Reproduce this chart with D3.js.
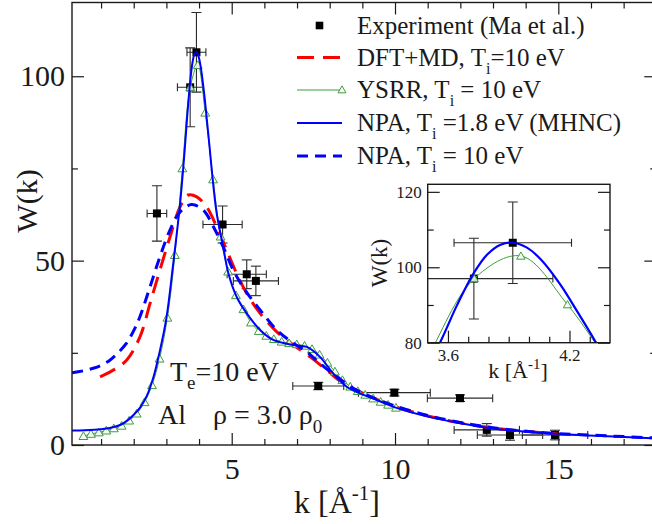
<!DOCTYPE html>
<html>
<head>
<meta charset="utf-8">
<script src="https://cdn.jsdelivr.net/npm/d3@7"></script>
<style>
  body { margin: 0; background: #fff; }
  svg { display: block; }
  text { font-family: "Liberation Serif", "Times New Roman", serif; fill: #1a1a1a; }
</style>
</head>
<body>
<svg id="chart" width="652" height="524"></svg>
<script>
// ---- Experiment (Ma et al.): k, W(k) and error bars ----
const expK  = [2.71, 3.728, 3.92, 4.72, 5.46, 5.74, 7.65, 9.98, 11.99, 12.81, 13.52, 14.9];
const expW  = [62.8, 97.0, 106.5, 59.8, 46.3, 44.5, 16.0, 14.2, 12.7, 4.1, 2.7, 2.7];
const expDK = [0.30, 0.39, 0.29, 0.60, 0.60, 0.69, 0.78, 1.10, 1.00, 1.00, 1.00, 1.00];
const expDW = [7.5, 10.7, 10.8, 5.0, 3.9, 4.0, 1.0, 0.9, 0.9, 1.7, 1.4, 1.3];

// ---- DFT+MD, Ti = 10 eV ----
const dftK = [0.97, 1.37, 1.78, 2.19, 2.50, 2.80, 3.11, 3.42, 3.67, 3.93, 4.23, 4.54, 4.85, 5.15, 5.46, 5.87, 6.38, 6.89, 7.40, 7.91, 8.42, 8.93, 10.0, 11.0, 12.0, 13.0, 14.0, 15.0];
const dftW = [18.5, 20.3, 23.0, 29.3, 38.4, 47.4, 56.4, 64.6, 67.8, 67.3, 64.6, 59.2, 52.8, 46.5, 41.1, 35.7, 30.7, 27.1, 23.9, 20.3, 16.7, 14.4, 10.4, 7.9, 6.0, 4.6, 3.7, 3.0];

// ---- YSRR, Ti = 10 eV ----
const ysrrK = [0.46, 0.69, 0.93, 1.16, 1.39, 1.63, 1.86, 2.09, 2.33, 2.56, 2.79, 3.03, 3.26, 3.49, 3.73, 3.96, 4.19, 4.43, 4.66, 4.89, 5.13, 5.36, 5.59, 5.83, 6.06, 6.29, 6.53, 6.76, 6.99, 7.23, 7.46, 7.69, 7.93, 8.16, 8.39, 8.63, 8.86, 9.09, 9.33, 9.56, 9.79, 10.03];
const ysrrW = [2.4, 3.0, 3.4, 3.9, 4.5, 5.2, 6.6, 8.5, 11.6, 16.2, 23.4, 34.5, 51.5, 75.0, 97.0, 103.0, 90.1, 72.0, 56.5, 47.0, 40.6, 36.8, 33.2, 30.9, 29.6, 28.7, 28.0, 27.6, 27.3, 26.9, 26.0, 24.5, 22.3, 19.9, 17.6, 15.8, 14.6, 13.6, 12.6, 11.7, 10.9, 10.1];

// ---- NPA, Ti = 1.8 eV (MHNC) ----
const npa18K = [0.11, 0.5, 1.0, 1.3, 1.6, 1.8, 2.0, 2.2, 2.4, 2.6, 2.8, 3.0, 3.2, 3.42, 3.564, 3.646, 3.728, 3.794, 3.86, 3.92, 3.99, 4.06, 4.155, 4.238, 4.327, 4.39, 4.54, 4.74, 4.90, 5.15, 5.46, 5.87, 6.27, 6.89, 7.30, 7.70, 8.11, 8.52, 8.93, 9.5, 10.0, 11.0, 12.0, 13.0, 14.0, 15.0, 16.7, 18.0];
const npa18W = [3.9, 4.0, 4.3, 4.7, 5.5, 6.6, 8.2, 10.2, 13.3, 18.3, 25.5, 34.4, 48.5, 65.5, 80.4, 90.1, 98.5, 103.4, 106.0, 106.5, 105.2, 102.0, 95.4, 88.3, 80.4, 74.5, 62.8, 53.7, 46.5, 40.2, 35.7, 31.2, 28.5, 27.1, 26.6, 23.9, 19.4, 15.8, 14.0, 12.0, 10.2, 7.7, 5.9, 4.5, 3.6, 3.0, 2.3, 1.8];

// ---- NPA, Ti = 10 eV ----
const npa10K = [0.11, 0.5, 0.76, 1.0, 1.27, 1.5, 1.78, 2.0, 2.19, 2.5, 2.8, 3.11, 3.42, 3.77, 4.13, 4.44, 4.74, 5.05, 5.41, 5.87, 6.38, 6.89, 7.30, 7.70, 8.22, 8.72, 9.2, 10.0, 11.0, 12.0, 13.0, 14.0, 15.0, 16.7, 18.0];
const npa10W = [19.6, 20.2, 20.8, 21.6, 23.0, 24.8, 27.6, 31.0, 34.8, 42.9, 51.0, 58.3, 63.2, 65.2, 63.7, 59.2, 53.7, 47.4, 42.0, 36.6, 31.2, 27.6, 25.3, 22.1, 18.5, 15.4, 13.3, 10.6, 8.0, 6.1, 4.7, 3.7, 3.1, 2.4, 1.9];

// ---- Axis ticks ----
const xMajor = [5, 10, 15];
const xMinor = [1, 2, 3, 4, 6, 7, 8, 9, 11, 12, 13, 14, 16, 17, 18];
const yMajor = [0, 50, 100];
const yMinor = [25, 75];
const inXMajor = [3.6, 4.2];
const inXMinor = [3.7, 3.8, 3.9, 4.0, 4.1, 4.3];
const inYMajor = [80, 100, 120];
const inYMinor = [90, 110];

const legendItems = [
  { key: "exp",   pre: "Experiment (Ma et al.)", sub: null, post: "" },
  { key: "dft",   pre: "DFT+MD, T", sub: "i", post: "=10 eV" },
  { key: "ysrr",  pre: "YSRR, T", sub: "i", post: " = 10 eV" },
  { key: "npa18", pre: "NPA, T", sub: "i", post: " =1.8 eV (MHNC)" },
  { key: "npa10", pre: "NPA, T", sub: "i", post: " = 10 eV" }
];

const RED = "#ff0000", BLUE = "#0000ff", GREEN = "#3a9f3a", INK = "#1a1a1a";
const zip = (a, b) => a.map((v, i) => [v, b[i]]);

const svg = d3.select("#chart");

function drawPanel(g, x, y, opts) {
  const [x0, x1] = x.range();
  const [yb, yt] = y.range();
  const clipId = opts.id + "-clip";
  g.append("defs").append("clipPath").attr("id", clipId)
    .append("rect").attr("x", x0).attr("y", yt).attr("width", x1 - x0).attr("height", yb - yt);

  if (opts.background) {
    g.append("rect").attr("x", x0).attr("y", yt).attr("width", x1 - x0).attr("height", yb - yt).attr("fill", "#fff");
  }

  const plot = g.append("g").attr("clip-path", `url(#${clipId})`);

  // experimental error bars and squares
  const eb = plot.append("g").attr("stroke", "#2a2a2a").attr("stroke-width", 1.1).attr("fill", "none");
  expK.forEach((k, i) => {
    const px = x(k), py = y(expW[i]);
    const ya = y(expW[i] - expDW[i]), yb2 = y(expW[i] + expDW[i]);
    const xa = x(k - expDK[i]), xb = x(k + expDK[i]);
    eb.append("line").attr("x1", px).attr("x2", px).attr("y1", ya).attr("y2", yb2);
    eb.append("line").attr("x1", px - 5).attr("x2", px + 5).attr("y1", ya).attr("y2", ya);
    eb.append("line").attr("x1", px - 5).attr("x2", px + 5).attr("y1", yb2).attr("y2", yb2);
    eb.append("line").attr("x1", xa).attr("x2", xb).attr("y1", py).attr("y2", py);
    eb.append("line").attr("x1", xa).attr("x2", xa).attr("y1", py - 4).attr("y2", py + 4);
    eb.append("line").attr("x1", xb).attr("x2", xb).attr("y1", py - 4).attr("y2", py + 4);
  });
  plot.append("g").selectAll("rect").data(zip(expK, expW)).join("rect")
    .attr("x", d => x(d[0]) - 4).attr("y", d => y(d[1]) - 4)
    .attr("width", 8).attr("height", 8).attr("fill", "#000");

  const line = d3.line().x(d => x(d[0])).y(d => y(d[1])).curve(d3.curveCatmullRom.alpha(0.5));

  // DFT+MD
  plot.append("path").datum(zip(dftK, dftW)).attr("d", line)
    .attr("fill", "none").attr("stroke", RED).attr("stroke-width", opts.thick)
    .attr("stroke-dasharray", "17,9");

  // YSRR line + triangles
  plot.append("path").datum(zip(ysrrK, ysrrW)).attr("d", line)
    .attr("fill", "none").attr("stroke", GREEN).attr("stroke-width", 1);
  const tri = d3.symbol().type(d3.symbolTriangle).size(opts.triSize);
  plot.append("g").selectAll("path").data(zip(ysrrK, ysrrW)).join("path")
    .attr("d", tri)
    .attr("transform", d => `translate(${x(d[0])},${y(d[1]) + 0.8})`)
    .attr("fill", "#fff").attr("fill-opacity", 0.85).attr("stroke", GREEN).attr("stroke-width", 1);

  // NPA 1.8 eV
  plot.append("path").datum(zip(npa18K, npa18W)).attr("d", line)
    .attr("fill", "none").attr("stroke", BLUE).attr("stroke-width", opts.solid);

  // NPA 10 eV
  plot.append("path").datum(zip(npa10K, npa10W)).attr("d", line)
    .attr("fill", "none").attr("stroke", BLUE).attr("stroke-width", opts.thick)
    .attr("stroke-dasharray", "11,7");

  // frame
  g.append("rect").attr("x", x0).attr("y", yt).attr("width", x1 - x0).attr("height", yb - yt)
    .attr("fill", "none").attr("stroke", INK).attr("stroke-width", 1.4);
}

function tickAxis(g, axisFn, scale, values, size, transform, fmt, pad, fontSize) {
  const a = axisFn(scale).tickValues(values).tickSize(-size).tickPadding(pad)
    .tickFormat(fmt || (() => ""));
  const sel = g.append("g").attr("transform", transform).call(a);
  sel.select(".domain").remove();
  sel.selectAll("line").attr("stroke", INK).attr("stroke-width", 1.2);
  sel.selectAll("text").attr("font-size", fontSize || 10).attr("fill", INK)
    .style("font-family", '"Liberation Serif", "Times New Roman", serif');
  return sel;
}

// ---------------- main panel ----------------
const x = d3.scaleLinear().domain([0.11, 18]).range([72, 656.3]);
const y = d3.scaleLinear().domain([0, 120]).range([445, 2.5]);
const main = svg.append("g");
drawPanel(main, x, y, { id: "main", thick: 3, solid: 2, triSize: 34 });

const fmt = d3.format("d");
tickAxis(main, d3.axisBottom, x, xMajor, 12, `translate(0,${y(0)})`, fmt, 13, 30);
tickAxis(main, d3.axisBottom, x, xMinor, 6, `translate(0,${y(0)})`);
tickAxis(main, d3.axisTop, x, xMajor, 12, `translate(0,${y(120)})`);
tickAxis(main, d3.axisTop, x, xMinor, 6, `translate(0,${y(120)})`);
tickAxis(main, d3.axisLeft, y, yMajor, 12, `translate(${x(0.11)},0)`, fmt, 7, 30);
tickAxis(main, d3.axisLeft, y, yMinor, 6, `translate(${x(0.11)},0)`);
tickAxis(main, d3.axisRight, y, yMajor, 12, `translate(${x(18)},0)`);
tickAxis(main, d3.axisRight, y, yMinor, 6, `translate(${x(18)},0)`);

// axis titles
main.append("text").attr("transform", "translate(37,201) rotate(-90)")
  .attr("text-anchor", "middle").attr("font-size", 30).text("W(k)");
const xt = main.append("text").attr("x", 337).attr("y", 513).attr("text-anchor", "middle").attr("font-size", 32);
xt.append("tspan").text("k [Å");
xt.append("tspan").attr("font-size", 21).attr("dy", -13).text("-1");
xt.append("tspan").attr("dy", 13).text("]");

// annotations
const te = main.append("text").attr("x", 170).attr("y", 381).attr("font-size", 28);
te.append("tspan").text("T");
te.append("tspan").attr("font-size", 19).attr("dy", 8).text("e");
te.append("tspan").attr("dy", -8).text("=10 eV");
main.append("text").attr("x", 158).attr("y", 424).attr("font-size", 28).text("Al");
const rho = main.append("text").attr("x", 213).attr("y", 424).attr("font-size", 28);
rho.append("tspan").text("ρ = 3.0 ρ");
rho.append("tspan").attr("font-size", 19).attr("dy", 9).text("0");

// ---------------- legend ----------------
const lg = main.append("g");
const rowY = [25.5, 57.5, 90, 123, 156];
const lx0 = 297, lx1 = 342, tx = 357;
legendItems.forEach((it, i) => {
  const ry = rowY[i];
  if (it.key === "exp") {
    lg.append("rect").attr("x", (lx0 + lx1) / 2 - 3.8).attr("y", ry - 3.8).attr("width", 7.6).attr("height", 7.6).attr("fill", "#000");
  } else {
    const st = {
      dft:   { c: RED, w: 3, d: "17,9" },
      ysrr:  { c: GREEN, w: 1, d: null },
      npa18: { c: BLUE, w: 2, d: null },
      npa10: { c: BLUE, w: 3, d: "11,7" }
    }[it.key];
    const ln = lg.append("line").attr("x1", lx0).attr("x2", lx1).attr("y1", ry).attr("y2", ry)
      .attr("stroke", st.c).attr("stroke-width", st.w);
    if (st.d) ln.attr("stroke-dasharray", st.d);
    if (it.key === "ysrr") {
      lg.append("path").attr("d", d3.symbol().type(d3.symbolTriangle).size(28))
        .attr("transform", `translate(${lx1},${ry + 0.5})`)
        .attr("fill", "#fff").attr("stroke", GREEN).attr("stroke-width", 1);
    }
  }
  const t = lg.append("text").attr("x", tx).attr("y", ry + 8).attr("font-size", 25);
  t.append("tspan").text(it.pre);
  if (it.sub) {
    t.append("tspan").attr("font-size", 16).attr("dy", 8).text(it.sub);
    t.append("tspan").attr("dy", -8).text(it.post);
  }
});

// ---------------- inset ----------------
const ix = d3.scaleLinear().domain([3.5, 4.4]).range([427.7, 610]);
const iy = d3.scaleLinear().domain([80, 122]).range([342.7, 184.3]);
const inset = svg.append("g");
drawPanel(inset, ix, iy, { id: "inset", thick: 3, solid: 2.2, triSize: 30, background: true });

const f1 = d3.format(".1f");
tickAxis(inset, d3.axisBottom, ix, inXMajor, 12, `translate(0,${iy(80)})`, f1, 6, 17);
tickAxis(inset, d3.axisBottom, ix, inXMinor, 6, `translate(0,${iy(80)})`);
tickAxis(inset, d3.axisLeft, iy, inYMajor, 12, `translate(${ix(3.5)},0)`, fmt, 6, 17);
tickAxis(inset, d3.axisLeft, iy, inYMinor, 6, `translate(${ix(3.5)},0)`);
tickAxis(inset, d3.axisRight, iy, inYMajor, 12, `translate(${ix(4.4)},0)`);
tickAxis(inset, d3.axisRight, iy, inYMinor, 6, `translate(${ix(4.4)},0)`);

inset.append("text").attr("transform", "translate(387,263) rotate(-90)")
  .attr("text-anchor", "middle").attr("font-size", 23).text("W(k)");
const ixt = inset.append("text").attr("x", 518).attr("y", 378).attr("text-anchor", "middle").attr("font-size", 22);
ixt.append("tspan").text("k [Å");
ixt.append("tspan").attr("font-size", 15).attr("dy", -9).text("-1");
ixt.append("tspan").attr("dy", 9).text("]");
</script>
</body>
</html>
